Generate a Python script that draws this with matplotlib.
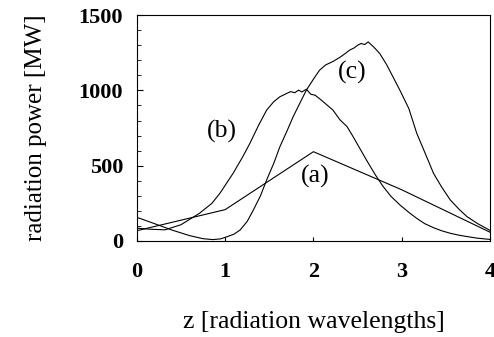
import matplotlib
matplotlib.use('Agg')
import matplotlib.pyplot as plt
from matplotlib.ticker import MultipleLocator

# curve (a): piecewise linear
z_a = [0.0, 1.0, 2.0, 3.0, 4.0]
p_a = [68, 208, 593, 340, 58]

# curve (b)
z_b = [0.0, 0.15, 0.32, 0.5, 0.71, 0.85, 0.94, 1.09, 1.2, 1.28, 1.38, 1.47, 1.55,
       1.62, 1.68, 1.74, 1.79, 1.83, 1.87, 1.92, 1.97, 2.02, 2.08, 2.15, 2.22,
       2.3, 2.38, 2.45, 2.52, 2.6, 2.7, 2.79, 2.88, 2.98, 3.08, 3.17, 3.26, 3.36,
       3.45, 3.55, 3.65, 3.74, 3.85, 4.0]
p_b = [85, 78, 74, 108, 184, 250, 316, 449, 560, 648, 770, 869, 925,
       958, 975, 992, 985, 1002, 990, 1008, 975, 968, 940, 905, 870,
       805, 760, 692, 620, 538, 440, 361, 295, 239, 190, 150, 115, 88,
       68, 51, 38, 29, 19, 10]

# curve (c)
z_c = [0.0, 0.2, 0.4, 0.6, 0.75, 0.86, 0.95, 1.02, 1.1, 1.17, 1.25, 1.32, 1.4,
       1.47, 1.55, 1.62, 1.7, 1.77, 1.85, 1.92, 2.0, 2.07, 2.14, 2.22, 2.3,
       2.36, 2.41, 2.46, 2.5, 2.54, 2.58, 2.62, 2.68, 2.75, 2.83, 2.9, 2.98,
       3.08, 3.17, 3.26, 3.36, 3.45, 3.55, 3.65, 3.74, 3.86, 4.0]
p_c = [157, 115, 72, 35, 15, 9, 14, 28, 45, 73, 130, 206, 300,
       405, 515, 626, 730, 825, 920, 1002, 1075, 1135, 1170, 1192, 1220,
       1245, 1268, 1282, 1300, 1312, 1305, 1322, 1290, 1246, 1170, 1091, 1000,
       880, 715, 590, 449, 360, 272, 210, 161, 115, 70]

labels = ['(a)', '(b)', '(c)']
label_z = [2.02, 0.96, 2.44]
label_p = [427, 725, 1121]

plt.rcParams['font.family'] = ['Liberation Serif', 'DejaVu Serif']

fig = plt.figure(figsize=(4.94, 3.37), dpi=100)
ax = fig.add_axes([0.277, 0.285, 0.715, 0.670])

ax.plot(z_a, p_a, color='black', lw=0.8)
ax.plot(z_b, p_b, color='black', lw=0.8)
ax.plot(z_c, p_c, color='black', lw=0.8)

for t, zz, pp in zip(labels, label_z, label_p):
    ax.text(zz, pp, t, fontsize=18.5, ha='center', va='center')

ax.set_xlim(0, 4)
ax.set_ylim(0, 1500)
ax.set_xticks([0, 1, 2, 3, 4])
ax.set_yticks([0, 500, 1000, 1500])
ax.yaxis.set_minor_locator(MultipleLocator(100))
ax.tick_params(axis='both', which='both', direction='in', top=False, right=False)
ax.tick_params(axis='y', which='major', length=4, pad=10)
ax.tick_params(axis='y', which='minor', length=3)
ax.tick_params(axis='x', which='major', length=3, pad=15)
for lab in ax.get_xticklabels() + ax.get_yticklabels():
    lab.set_fontweight('bold')
    lab.set_fontsize(16)
for s in ax.spines.values():
    s.set_linewidth(0.8)

ax.set_xlabel('z [radiation wavelengths]', fontsize=18.5)
ax.set_ylabel('radiation power [MW]', fontsize=18)
ax.xaxis.set_label_coords(0.5, -0.31)
ax.yaxis.set_label_coords(-0.255, 0.5)

plt.savefig('out.png', dpi=100)
